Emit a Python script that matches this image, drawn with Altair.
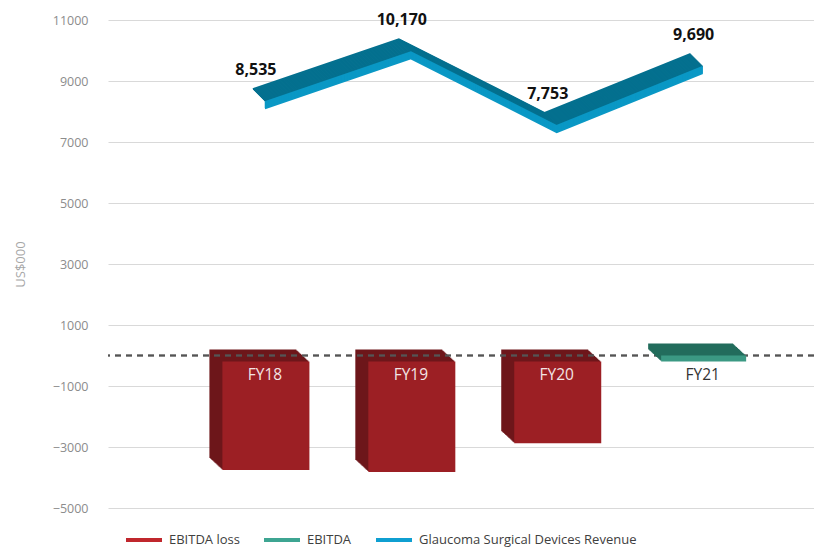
import altair as alt
import pandas as pd

years = ["FY18", "FY19", "FY20", "FY21"]
revenue = [8535, 10170, 7753, 9690]
ebitda = [-3560, -3620, -2680, 200]
series = ["EBITDA loss", "EBITDA", "Glaucoma Surgical Devices Revenue"]
legend_colors = ["#C0272D", "#3EA592", "#0F9FD1"]
y_ticks = [-5000, -3000, -1000, 1000, 3000, 5000, 7000, 9000, 11000]

df = pd.DataFrame({"year": years, "idx": list(range(len(years))),
                   "revenue": revenue, "ebitda": ebitda})
leg = pd.DataFrame({"series": series})

FONT = "Open Sans"
yscale = alt.Scale(domain=[-5000, 11000], nice=False, zero=False)
yaxis = alt.Axis(values=y_ticks, format="d", title="US$000", domain=False, ticks=False,
                 labelPadding=20, labelColor="#8C8C8C", labelFontSize=12.5, labelFont=FONT,
                 gridColor="#D9D9D9", gridWidth=1, titleColor="#A6A6A6", titleFontSize=13,
                 titleFont=FONT, titleFontWeight="normal", titlePadding=25)
X = alt.X("idx:Q", scale=alt.Scale(domain=[-1.0, 3.77], nice=False, zero=False), axis=None)

def Y(field):
    return alt.Y(field, type="quantitative", scale=yscale, axis=yaxis)

base = alt.Chart(df)
layers = []

neg = base.transform_filter(alt.datum.ebitda < 0)
pos = base.transform_filter(alt.datum.ebitda >= 0)
BW = 87

# red 3D bars (losses): extruded side/top, then front face
for k in range(13):
    layers.append(neg.mark_bar(size=BW, color="#6E171B", xOffset=-6 + k, yOffset=-6 + k * 12 / 13)
                  .encode(x=X, y=Y("ebitda")))
layers.append(neg.mark_bar(size=BW, color="#9C1F24", xOffset=7, yOffset=6).encode(x=X, y=Y("ebitda")))

# zero dashed line
layers.append(base.mark_rule(color="#555555", strokeDash=[6, 5], strokeWidth=1.5)
              .encode(y=alt.Y(datum=0, type="quantitative", scale=yscale, axis=yaxis)))

# green 3D slab
for k in range(13):
    layers.append(pos.mark_bar(size=BW - 2, color="#236C5C", xOffset=-6 + k, yOffset=-6 + k * 12 / 13)
                  .encode(x=X, y=Y("ebitda")))
layers.append(pos.mark_bar(size=BW - 2, color="#3B9983", xOffset=7, yOffset=6).encode(x=X, y=Y("ebitda")))

# bar labels
layers.append(base.mark_text(font=FONT, fontSize=15.5, dx=6, dy=19, baseline="middle")
              .encode(x=X, y=alt.Y(datum=0, type="quantitative", scale=yscale, axis=yaxis),
                      text="year:N",
                      color=alt.condition(alt.datum.ebitda < 0, alt.value("#F3E4E4"), alt.value("#333333"))))

# 3D ribbon line: top face swept back-to-front, then front face
for k in range(13):
    layers.append(base.mark_line(color="#04708F", strokeWidth=2, strokeCap="butt",
                                 xOffset=-6 + k, yOffset=-6 + k)
                  .encode(x=X, y=Y("revenue")))
for k in range(7):
    layers.append(base.mark_line(color="#0A98C5", strokeWidth=2, strokeCap="butt",
                                 xOffset=6, yOffset=7 + k)
                  .encode(x=X, y=Y("revenue")))

# value labels
layers.append(base.mark_text(font=FONT, fontSize=16, fontWeight="bold", color="#111111",
                             dx=-3, dy=-25, baseline="middle")
              .encode(x=X, y=Y("revenue"), text=alt.Text("revenue:Q", format=",")))

# legend
layers.append(alt.Chart(leg).mark_line(opacity=0).encode(
    x=alt.value(0), y=alt.value(0),
    color=alt.Color("series:N", sort=series,
                    scale=alt.Scale(domain=series, range=legend_colors),
                    legend=alt.Legend(title=None, orient="none", legendX=16, legendY=500,
                                      direction="horizontal", symbolType="stroke",
                                      symbolSize=1296, symbolStrokeWidth=4, symbolOpacity=1,
                                      labelFontSize=13, labelFont=FONT, labelColor="#404040",
                                      labelLimit=400, labelOffset=5, columnPadding=16,
                                      padding=0))))

chart = alt.layer(*layers).properties(
    width=706, height=488,
    padding={"left": 100, "top": 12, "right": 0, "bottom": 40},
    autosize=alt.AutoSizeParams(type="none"),
).configure_view(stroke=None)

chart.save("out.html", embed_options={"renderer": "svg", "actions": False})
